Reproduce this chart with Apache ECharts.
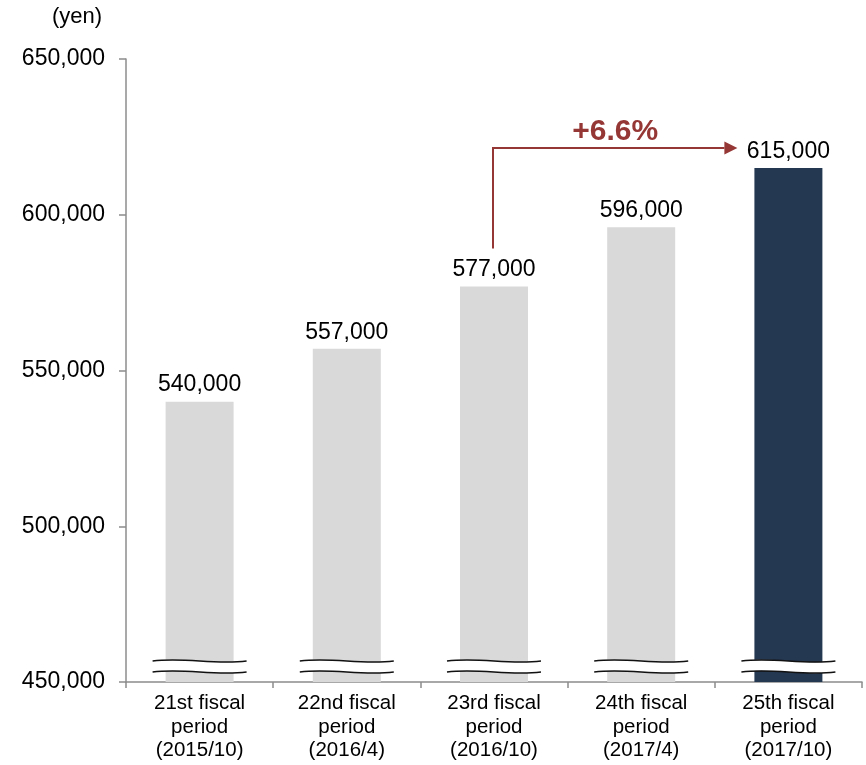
<!DOCTYPE html>
<html>
<head>
<meta charset="utf-8">
<script src="https://cdn.jsdelivr.net/npm/echarts@6/dist/echarts.min.js"></script>
<style>
  html, body { margin: 0; padding: 0; background: #fff; }
  #chart { width: 866px; height: 765px; }
</style>
</head>
<body>
<div id="chart"></div>
<script>
// Unit price per fiscal period (yen)
const categories = [
  '21st fiscal\nperiod\n(2015/10)',
  '22nd fiscal\nperiod\n(2016/4)',
  '23rd fiscal\nperiod\n(2016/10)',
  '24th fiscal\nperiod\n(2017/4)',
  '25th fiscal\nperiod\n(2017/10)'
];
const values = [540000, 557000, 577000, 596000, 615000];
const yTicks = [450000, 500000, 550000, 600000, 650000];

// growth arrow runs from this period to the latest one
const fromIdx = 2;
const toIdx = 4;

const FONT = '"Liberation Sans", Arial, sans-serif';
const GREY_BAR = '#d9d9d9';
const NAVY_BAR = '#253852';
const ARROW_RED = '#953735';
const AXIS_GREY = '#8c8c8c';

const yMin = yTicks[0];
const yMax = yTicks[yTicks.length - 1];
const yStep = yTicks[1] - yTicks[0];

const fmt = v => v.toLocaleString('en-US');
const growth = (values[toIdx] / values[fromIdx] - 1) * 100;
const growthText = '+' + growth.toFixed(1) + '%';

const chart = echarts.init(document.getElementById('chart'));

// wavy axis-break symbol drawn across the foot of every bar
function renderBreak(params, api) {
  const idx = api.value(0);
  const base = api.coord([idx, yMin]);
  const halfW = 47;
  const x0 = base[0] - halfW, x1 = base[0] + halfW;
  const w = x1 - x0;
  const yUp = base[1] - 21, yLo = base[1] - 10;
  const wave = y => ({
    x1: x0, y1: y,
    cpx1: x0 + w * 0.35, cpy1: y - 4,
    cpx2: x0 + w * 0.65, cpy2: y + 4,
    x2: x1, y2: y
  });
  const a = wave(yUp), b = wave(yLo);
  // white band between the two waves
  const band = 'M' + a.x1 + ' ' + a.y1 +
    ' C' + a.cpx1 + ' ' + a.cpy1 + ' ' + a.cpx2 + ' ' + a.cpy2 + ' ' + a.x2 + ' ' + a.y2 +
    ' L' + b.x2 + ' ' + b.y2 +
    ' C' + b.cpx2 + ' ' + b.cpy2 + ' ' + b.cpx1 + ' ' + b.cpy1 + ' ' + b.x1 + ' ' + b.y1 + ' Z';
  return {
    type: 'group',
    children: [
      { type: 'path', shape: { pathData: band }, style: { fill: '#fff', stroke: null } },
      { type: 'bezierCurve', shape: a, style: { stroke: '#111', lineWidth: 1.6, fill: null } },
      { type: 'bezierCurve', shape: b, style: { stroke: '#111', lineWidth: 1.6, fill: null } }
    ]
  };
}

// elbow arrow from one period's label to another's, with the growth rate on top
function renderArrow(params, api) {
  const pFrom = api.coord([fromIdx, values[fromIdx]]);
  const pTo = api.coord([toIdx, values[toIdx]]);
  const xStart = pFrom[0] - 1;
  const yStart = pFrom[1] - 38;
  const yLine = pTo[1] - 20;
  const xTip = pTo[0] - 51;
  const head = 13;
  return {
    type: 'group',
    children: [
      {
        type: 'polyline',
        shape: { points: [[xStart, yStart], [xStart, yLine], [xTip - head, yLine]] },
        style: { stroke: ARROW_RED, lineWidth: 2, fill: null }
      },
      {
        type: 'polygon',
        shape: { points: [[xTip, yLine], [xTip - head, yLine - 6.5], [xTip - head, yLine + 6.5]] },
        style: { fill: ARROW_RED }
      },
      {
        type: 'text',
        x: (xStart + xTip) / 2,
        y: yLine - 1,
        style: {
          text: growthText,
          fill: ARROW_RED,
          font: 'bold 30px ' + FONT,
          align: 'center',
          verticalAlign: 'bottom'
        }
      }
    ]
  };
}

chart.setOption({
  animation: false,
  backgroundColor: '#fff',
  grid: { left: 126, right: 4, top: 59, bottom: 83, containLabel: false },
  graphic: [{
    type: 'text',
    left: 52, top: 6,
    style: { text: '(yen)', fill: '#000', font: '22px ' + FONT }
  }],
  xAxis: {
    type: 'category',
    data: categories,
    axisLine: { lineStyle: { color: AXIS_GREY, width: 1.5 } },
    axisTick: { show: true, length: 6, alignWithLabel: false, lineStyle: { color: AXIS_GREY, width: 1.5 } },
    axisLabel: {
      color: '#000',
      fontFamily: FONT,
      fontSize: 20.5,
      lineHeight: 23.5,
      margin: 10,
      interval: 0
    }
  },
  yAxis: {
    type: 'value',
    min: yMin,
    max: yMax,
    interval: yStep,
    splitLine: { show: false },
    axisLine: { show: true, lineStyle: { color: AXIS_GREY, width: 1.5 } },
    axisTick: { show: true, length: 7, lineStyle: { color: AXIS_GREY, width: 1.5 } },
    axisLabel: {
      color: '#000',
      fontFamily: FONT,
      fontSize: 23,
      margin: 21,
      formatter: v => fmt(v)
    }
  },
  series: [
    {
      type: 'bar',
      barWidth: 68,
      data: values.map((v, i) => ({
        value: v,
        itemStyle: { color: i === values.length - 1 ? NAVY_BAR : GREY_BAR }
      })),
      label: {
        show: true,
        position: 'top',
        distance: 5,
        color: '#000',
        fontFamily: FONT,
        fontSize: 23,
        formatter: p => fmt(p.value)
      },
      z: 2
    },
    {
      type: 'custom',
      renderItem: renderBreak,
      data: values.map((v, i) => [i]),
      encode: { x: 0 },
      silent: true,
      z: 3
    },
    {
      type: 'custom',
      renderItem: renderArrow,
      data: [[toIdx]],
      encode: { x: 0 },
      silent: true,
      z: 4
    }
  ]
});
</script>
</body>
</html>
